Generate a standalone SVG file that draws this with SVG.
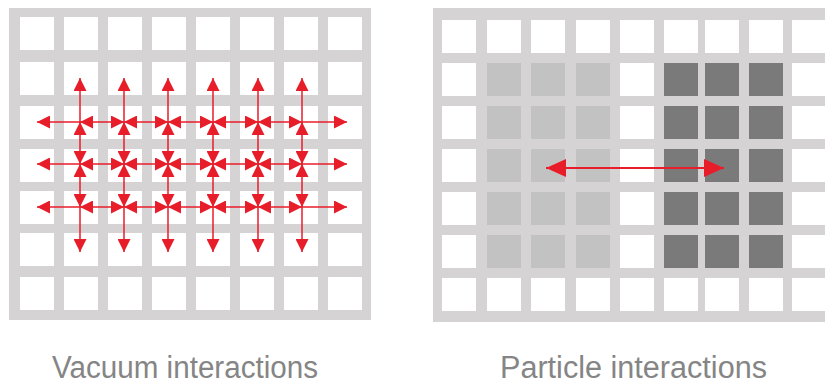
<svg xmlns="http://www.w3.org/2000/svg" width="825" height="385" viewBox="0 0 825 385">
  <style>
    .frame { fill: #d5d3d3; }
    .cell { fill: #ffffff; }
    .light { fill: #c2c2c2; }
    .dark { fill: #7a7a7a; }
    .flow { stroke: #e81d2a; stroke-width: 1.5; fill: none; }
    .flow-wide { stroke: #e81d2a; stroke-width: 2.2; fill: none; }
    .caption { font-family: "Liberation Sans", Arial, sans-serif; font-size: 31px; fill: #858585; }
  </style>
  <defs>
    <marker id="head" markerUnits="userSpaceOnUse" markerWidth="13" markerHeight="13" refX="13" refY="6.5" orient="auto-start-reverse">
      <path d="M0,0 L13,6.5 L0,13 Z" fill="#e81d2a"/>
    </marker>
    <marker id="head-wide" markerUnits="userSpaceOnUse" markerWidth="20" markerHeight="18" refX="20" refY="9" orient="auto-start-reverse">
      <path d="M0,0 L20,9 L0,18 Z" fill="#e81d2a"/>
    </marker>
  </defs>

  <!-- Left lattice: 8 x 7 cells -->
  <g id="vacuum-grid">
    <rect class="frame" x="9" y="8" width="362" height="312"/>
    <g class="cell">
      <rect x="20" y="17" width="34" height="33"/><rect x="64" y="17" width="34" height="33"/><rect x="108" y="17" width="34" height="33"/><rect x="152" y="17" width="34" height="33"/><rect x="196" y="17" width="34" height="33"/><rect x="240" y="17" width="34" height="33"/><rect x="284" y="17" width="34" height="33"/><rect x="328" y="17" width="34" height="33"/>
      <rect x="20" y="62" width="34" height="33"/><rect x="64" y="62" width="34" height="33"/><rect x="108" y="62" width="34" height="33"/><rect x="152" y="62" width="34" height="33"/><rect x="196" y="62" width="34" height="33"/><rect x="240" y="62" width="34" height="33"/><rect x="284" y="62" width="34" height="33"/><rect x="328" y="62" width="34" height="33"/>
      <rect x="20" y="106" width="34" height="33"/><rect x="64" y="106" width="34" height="33"/><rect x="108" y="106" width="34" height="33"/><rect x="152" y="106" width="34" height="33"/><rect x="196" y="106" width="34" height="33"/><rect x="240" y="106" width="34" height="33"/><rect x="284" y="106" width="34" height="33"/><rect x="328" y="106" width="34" height="33"/>
      <rect x="20" y="149" width="34" height="33"/><rect x="64" y="149" width="34" height="33"/><rect x="108" y="149" width="34" height="33"/><rect x="152" y="149" width="34" height="33"/><rect x="196" y="149" width="34" height="33"/><rect x="240" y="149" width="34" height="33"/><rect x="284" y="149" width="34" height="33"/><rect x="328" y="149" width="34" height="33"/>
      <rect x="20" y="191" width="34" height="33"/><rect x="64" y="191" width="34" height="33"/><rect x="108" y="191" width="34" height="33"/><rect x="152" y="191" width="34" height="33"/><rect x="196" y="191" width="34" height="33"/><rect x="240" y="191" width="34" height="33"/><rect x="284" y="191" width="34" height="33"/><rect x="328" y="191" width="34" height="33"/>
      <rect x="20" y="233" width="34" height="33"/><rect x="64" y="233" width="34" height="33"/><rect x="108" y="233" width="34" height="33"/><rect x="152" y="233" width="34" height="33"/><rect x="196" y="233" width="34" height="33"/><rect x="240" y="233" width="34" height="33"/><rect x="284" y="233" width="34" height="33"/><rect x="328" y="233" width="34" height="33"/>
      <rect x="20" y="277" width="34" height="33"/><rect x="64" y="277" width="34" height="33"/><rect x="108" y="277" width="34" height="33"/><rect x="152" y="277" width="34" height="33"/><rect x="196" y="277" width="34" height="33"/><rect x="240" y="277" width="34" height="33"/><rect x="284" y="277" width="34" height="33"/><rect x="328" y="277" width="34" height="33"/>
    </g>
  </g>

  <!-- Right lattice: 9 columns (last one clipped) x 7 rows -->
  <g id="particle-grid">
    <rect class="frame" x="433" y="8" width="400" height="314"/>
    <g class="cell">
      <rect x="442" y="20" width="34" height="33"/><rect x="487" y="20" width="34" height="33"/><rect x="531" y="20" width="34" height="33"/><rect x="576" y="20" width="34" height="33"/><rect x="620" y="20" width="34" height="33"/><rect x="664" y="20" width="34" height="33"/><rect x="705" y="20" width="34" height="33"/><rect x="749" y="20" width="34" height="33"/><rect x="792" y="20" width="34" height="33"/>
      <rect x="442" y="63" width="34" height="33"/><rect x="620" y="63" width="34" height="33"/><rect x="792" y="63" width="34" height="33"/>
      <rect x="442" y="106" width="34" height="33"/><rect x="620" y="106" width="34" height="33"/><rect x="792" y="106" width="34" height="33"/>
      <rect x="442" y="149" width="34" height="33"/><rect x="620" y="149" width="34" height="33"/><rect x="792" y="149" width="34" height="33"/>
      <rect x="442" y="192" width="34" height="33"/><rect x="620" y="192" width="34" height="33"/><rect x="792" y="192" width="34" height="33"/>
      <rect x="442" y="235" width="34" height="33"/><rect x="620" y="235" width="34" height="33"/><rect x="792" y="235" width="34" height="33"/>
      <rect x="442" y="278" width="34" height="33"/><rect x="487" y="278" width="34" height="33"/><rect x="531" y="278" width="34" height="33"/><rect x="576" y="278" width="34" height="33"/><rect x="620" y="278" width="34" height="33"/><rect x="664" y="278" width="34" height="33"/><rect x="705" y="278" width="34" height="33"/><rect x="749" y="278" width="34" height="33"/><rect x="792" y="278" width="34" height="33"/>
    </g>
    <g id="particle-a" class="light">
      <rect x="487" y="63" width="34" height="33"/><rect x="531" y="63" width="34" height="33"/><rect x="576" y="63" width="34" height="33"/>
      <rect x="487" y="106" width="34" height="33"/><rect x="531" y="106" width="34" height="33"/><rect x="576" y="106" width="34" height="33"/>
      <rect x="487" y="149" width="34" height="33"/><rect x="531" y="149" width="34" height="33"/><rect x="576" y="149" width="34" height="33"/>
      <rect x="487" y="192" width="34" height="33"/><rect x="531" y="192" width="34" height="33"/><rect x="576" y="192" width="34" height="33"/>
      <rect x="487" y="235" width="34" height="33"/><rect x="531" y="235" width="34" height="33"/><rect x="576" y="235" width="34" height="33"/>
    </g>
    <g id="particle-b" class="dark">
      <rect x="664" y="63" width="34" height="33"/><rect x="705" y="63" width="34" height="33"/><rect x="749" y="63" width="34" height="33"/>
      <rect x="664" y="106" width="34" height="33"/><rect x="705" y="106" width="34" height="33"/><rect x="749" y="106" width="34" height="33"/>
      <rect x="664" y="149" width="34" height="33"/><rect x="705" y="149" width="34" height="33"/><rect x="749" y="149" width="34" height="33"/>
      <rect x="664" y="192" width="34" height="33"/><rect x="705" y="192" width="34" height="33"/><rect x="749" y="192" width="34" height="33"/>
      <rect x="664" y="235" width="34" height="33"/><rect x="705" y="235" width="34" height="33"/><rect x="749" y="235" width="34" height="33"/>
    </g>
  </g>

  <!-- Connectors: neighbour-to-neighbour exchanges on the left, one long-range pair on the right -->
  <g id="connectors">
    <!-- rows -->
    <g class="flow">
      <line x1="37" y1="122" x2="80" y2="122" marker-start="url(#head)"/>
      <line x1="80" y1="122" x2="124" y2="122" marker-start="url(#head)" marker-end="url(#head)"/>
      <line x1="124" y1="122" x2="168" y2="122" marker-start="url(#head)" marker-end="url(#head)"/>
      <line x1="168" y1="122" x2="213" y2="122" marker-start="url(#head)" marker-end="url(#head)"/>
      <line x1="213" y1="122" x2="258" y2="122" marker-start="url(#head)" marker-end="url(#head)"/>
      <line x1="258" y1="122" x2="302" y2="122" marker-start="url(#head)" marker-end="url(#head)"/>
      <line x1="302" y1="122" x2="347" y2="122" marker-end="url(#head)"/>

      <line x1="37" y1="164" x2="80" y2="164" marker-start="url(#head)"/>
      <line x1="80" y1="164" x2="124" y2="164" marker-start="url(#head)" marker-end="url(#head)"/>
      <line x1="124" y1="164" x2="168" y2="164" marker-start="url(#head)" marker-end="url(#head)"/>
      <line x1="168" y1="164" x2="213" y2="164" marker-start="url(#head)" marker-end="url(#head)"/>
      <line x1="213" y1="164" x2="258" y2="164" marker-start="url(#head)" marker-end="url(#head)"/>
      <line x1="258" y1="164" x2="302" y2="164" marker-start="url(#head)" marker-end="url(#head)"/>
      <line x1="302" y1="164" x2="347" y2="164" marker-end="url(#head)"/>

      <line x1="37" y1="207" x2="80" y2="207" marker-start="url(#head)"/>
      <line x1="80" y1="207" x2="124" y2="207" marker-start="url(#head)" marker-end="url(#head)"/>
      <line x1="124" y1="207" x2="168" y2="207" marker-start="url(#head)" marker-end="url(#head)"/>
      <line x1="168" y1="207" x2="213" y2="207" marker-start="url(#head)" marker-end="url(#head)"/>
      <line x1="213" y1="207" x2="258" y2="207" marker-start="url(#head)" marker-end="url(#head)"/>
      <line x1="258" y1="207" x2="302" y2="207" marker-start="url(#head)" marker-end="url(#head)"/>
      <line x1="302" y1="207" x2="347" y2="207" marker-end="url(#head)"/>
    </g>
    <!-- columns -->
    <g class="flow">
      <line x1="80" y1="78" x2="80" y2="122" marker-start="url(#head)"/>
      <line x1="80" y1="122" x2="80" y2="164" marker-start="url(#head)" marker-end="url(#head)"/>
      <line x1="80" y1="164" x2="80" y2="207" marker-start="url(#head)" marker-end="url(#head)"/>
      <line x1="80" y1="207" x2="80" y2="252" marker-end="url(#head)"/>

      <line x1="124" y1="78" x2="124" y2="122" marker-start="url(#head)"/>
      <line x1="124" y1="122" x2="124" y2="164" marker-start="url(#head)" marker-end="url(#head)"/>
      <line x1="124" y1="164" x2="124" y2="207" marker-start="url(#head)" marker-end="url(#head)"/>
      <line x1="124" y1="207" x2="124" y2="252" marker-end="url(#head)"/>

      <line x1="168" y1="78" x2="168" y2="122" marker-start="url(#head)"/>
      <line x1="168" y1="122" x2="168" y2="164" marker-start="url(#head)" marker-end="url(#head)"/>
      <line x1="168" y1="164" x2="168" y2="207" marker-start="url(#head)" marker-end="url(#head)"/>
      <line x1="168" y1="207" x2="168" y2="252" marker-end="url(#head)"/>

      <line x1="213" y1="78" x2="213" y2="122" marker-start="url(#head)"/>
      <line x1="213" y1="122" x2="213" y2="164" marker-start="url(#head)" marker-end="url(#head)"/>
      <line x1="213" y1="164" x2="213" y2="207" marker-start="url(#head)" marker-end="url(#head)"/>
      <line x1="213" y1="207" x2="213" y2="252" marker-end="url(#head)"/>

      <line x1="258" y1="78" x2="258" y2="122" marker-start="url(#head)"/>
      <line x1="258" y1="122" x2="258" y2="164" marker-start="url(#head)" marker-end="url(#head)"/>
      <line x1="258" y1="164" x2="258" y2="207" marker-start="url(#head)" marker-end="url(#head)"/>
      <line x1="258" y1="207" x2="258" y2="252" marker-end="url(#head)"/>

      <line x1="302" y1="78" x2="302" y2="122" marker-start="url(#head)"/>
      <line x1="302" y1="122" x2="302" y2="164" marker-start="url(#head)" marker-end="url(#head)"/>
      <line x1="302" y1="164" x2="302" y2="207" marker-start="url(#head)" marker-end="url(#head)"/>
      <line x1="302" y1="207" x2="302" y2="252" marker-end="url(#head)"/>
    </g>
    <line class="flow-wide" x1="546" y1="168" x2="724" y2="168" marker-start="url(#head-wide)" marker-end="url(#head-wide)"/>
  </g>

  <g id="captions">
    <text class="caption" x="52" y="378" textLength="266" lengthAdjust="spacingAndGlyphs">Vacuum interactions</text>
    <text class="caption" x="500" y="378" textLength="267" lengthAdjust="spacingAndGlyphs">Particle interactions</text>
  </g>
</svg>
